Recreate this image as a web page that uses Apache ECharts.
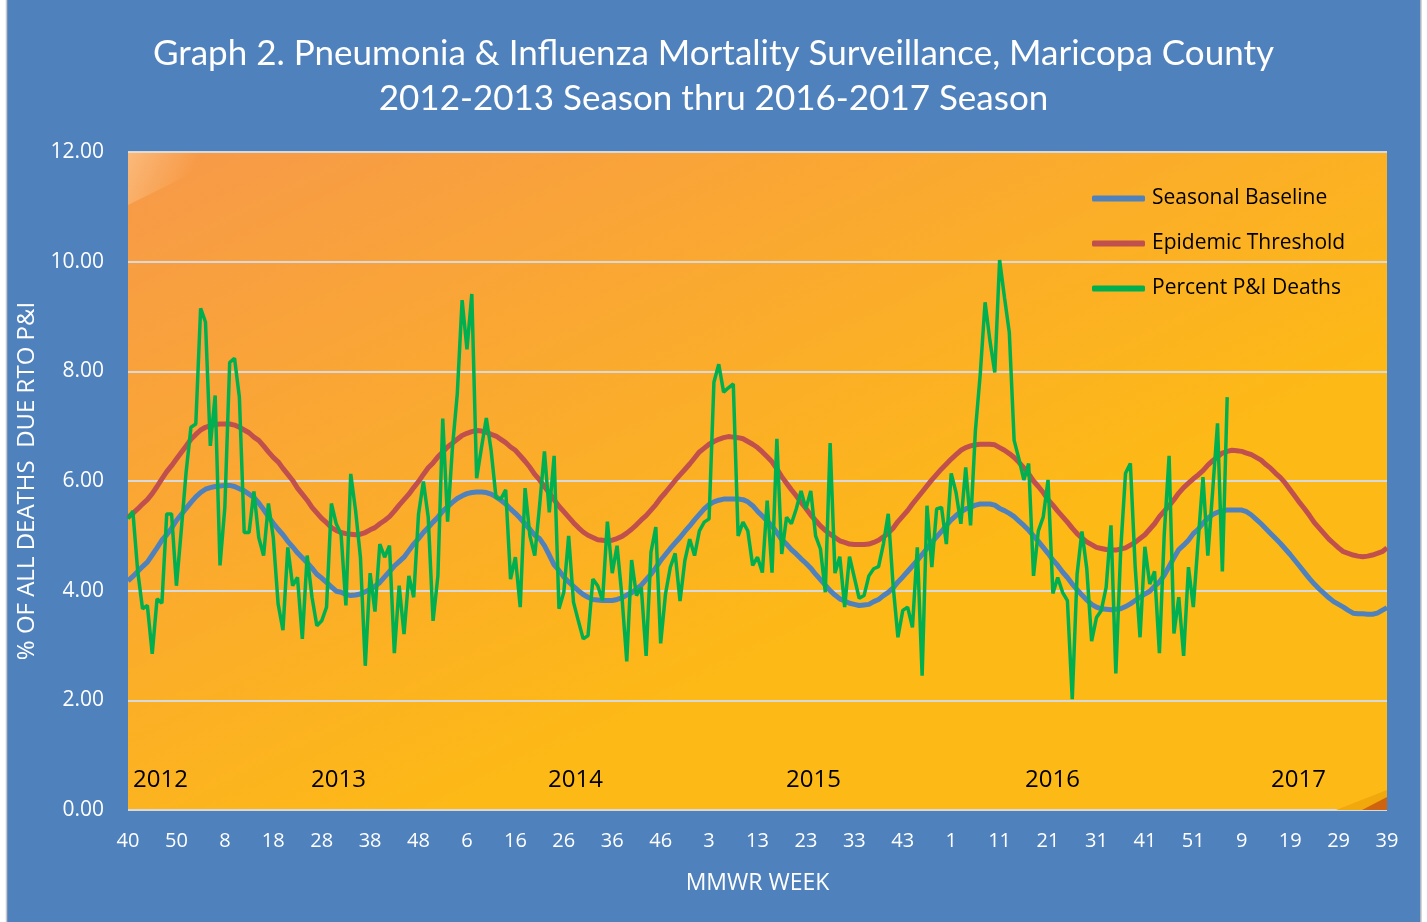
<!DOCTYPE html>
<html>
<head>
<meta charset="utf-8">
<script src="https://cdn.jsdelivr.net/npm/echarts@6/dist/echarts.min.js"></script>
<style>
  html, body { margin: 0; padding: 0; background: #fff; }
  #chart { width: 1427px; height: 922px; }
</style>
</head>
<body>
<div id="chart"></div>
<script>
// MMWR seasons: [year, first week, last week]
const seasonYears = [[2012, 40, 52], [2013, 1, 52], [2014, 1, 53], [2015, 1, 52], [2016, 1, 52], [2017, 1, 39]];

const yearLabels = ['2012', '2013', '2014', '2015', '2016', '2017'];

const seasonalBaseline = [
  4.18, 4.26, 4.35, 4.44, 4.52, 4.65, 4.78, 4.92, 5.02, 5.14, 5.28, 5.39, 5.50, 5.61, 5.71, 5.79, 5.85, 5.88, 5.90, 5.91, 5.92, 5.92, 5.90, 5.86, 5.82, 5.76, 5.70, 5.60, 5.48, 5.35, 5.23, 5.12, 5.02, 4.90, 4.80, 4.69, 4.60, 4.51, 4.41, 4.30, 4.23, 4.15, 4.07, 3.99,
  3.97, 3.93, 3.91, 3.92, 3.94, 3.98, 4.02, 4.08, 4.15, 4.25, 4.35, 4.45, 4.53, 4.61, 4.73, 4.85, 4.95, 5.06, 5.15, 5.25, 5.34, 5.45, 5.53, 5.61, 5.68, 5.73, 5.77, 5.79, 5.80, 5.80, 5.79, 5.76, 5.71, 5.65, 5.58, 5.49, 5.41, 5.32, 5.22, 5.12, 5.01, 4.95, 4.82, 4.65,
  4.47, 4.37, 4.25, 4.16, 4.08, 4.00, 3.93, 3.88, 3.84, 3.83, 3.82, 3.82, 3.82, 3.84, 3.87, 3.92, 3.96, 4.03, 4.10, 4.20, 4.30, 4.42, 4.55, 4.66, 4.77, 4.87, 4.97, 5.08, 5.18, 5.29, 5.39, 5.49, 5.57, 5.62, 5.65, 5.67, 5.67, 5.67, 5.67, 5.66, 5.62, 5.55, 5.45,
  5.36, 5.27, 5.18, 5.06, 4.93, 4.85, 4.75, 4.67, 4.58, 4.50, 4.41, 4.30, 4.20, 4.10, 4.00, 3.92, 3.85, 3.81, 3.77, 3.75, 3.73, 3.74, 3.75, 3.80, 3.84, 3.91, 3.97, 4.05, 4.16, 4.25, 4.35, 4.45, 4.55, 4.66, 4.77, 4.88, 4.98, 5.08, 5.19, 5.29, 5.37, 5.44, 5.49, 5.52,
  5.56, 5.58, 5.58, 5.58, 5.56, 5.50, 5.46, 5.41, 5.35, 5.27, 5.19, 5.10, 5.00, 4.90, 4.79, 4.68, 4.56, 4.46, 4.34, 4.24, 4.12, 4.02, 3.92, 3.83, 3.75, 3.70, 3.67, 3.66, 3.65, 3.66, 3.67, 3.71, 3.76, 3.82, 3.88, 3.94, 3.99, 4.08, 4.16, 4.28, 4.44, 4.60, 4.75,
  4.83, 4.92, 5.04, 5.12, 5.23, 5.32, 5.39, 5.43, 5.46, 5.47, 5.47, 5.47, 5.47, 5.44, 5.38, 5.30, 5.22, 5.13, 5.04, 4.95, 4.86, 4.76, 4.66, 4.55, 4.44, 4.33, 4.22, 4.12, 4.03, 3.95, 3.87, 3.80, 3.75, 3.70, 3.64, 3.59, 3.58, 3.58, 3.57, 3.57, 3.59, 3.64, 3.69
];

const epidemicThreshold = [
  5.34, 5.41, 5.49, 5.58, 5.66, 5.77, 5.90, 6.04, 6.17, 6.28, 6.40, 6.52, 6.64, 6.76, 6.85, 6.93, 6.98, 7.01, 7.03, 7.04, 7.04, 7.04, 7.02, 6.98, 6.93, 6.88, 6.80, 6.74, 6.64, 6.53, 6.43, 6.35, 6.23, 6.12, 6.01, 5.87, 5.76, 5.65, 5.52, 5.42, 5.32, 5.24, 5.15, 5.10,
  5.06, 5.04, 5.03, 5.02, 5.03, 5.06, 5.11, 5.15, 5.22, 5.28, 5.35, 5.45, 5.56, 5.66, 5.76, 5.88, 5.99, 6.12, 6.24, 6.33, 6.44, 6.53, 6.62, 6.69, 6.76, 6.83, 6.87, 6.90, 6.92, 6.91, 6.89, 6.85, 6.82, 6.76, 6.70, 6.62, 6.56, 6.46, 6.36, 6.25, 6.12,
  6.02, 5.90, 5.78, 5.66, 5.54, 5.44, 5.34, 5.24, 5.15, 5.07, 5.01, 4.97, 4.93, 4.92, 4.91, 4.92, 4.95, 4.99, 5.05, 5.12, 5.20, 5.29, 5.37, 5.47, 5.57, 5.69, 5.79, 5.90, 6.01, 6.11, 6.21, 6.31, 6.42, 6.53, 6.60, 6.67, 6.72, 6.76, 6.79, 6.81, 6.80, 6.79, 6.77, 6.72, 6.67, 6.61,
  6.53, 6.44, 6.35, 6.22, 6.08, 5.96, 5.84, 5.73, 5.61, 5.50, 5.38, 5.28, 5.18, 5.10, 5.03, 4.97, 4.91, 4.88, 4.85, 4.84, 4.84, 4.84, 4.85, 4.88, 4.92, 4.98, 5.05, 5.14, 5.26, 5.36, 5.46, 5.58, 5.69, 5.80, 5.91, 6.02, 6.12, 6.22, 6.31, 6.40, 6.48, 6.56, 6.61, 6.64,
  6.66, 6.67, 6.67, 6.67, 6.66, 6.61, 6.56, 6.50, 6.43, 6.34, 6.24, 6.13, 6.00, 5.90, 5.79, 5.66, 5.56, 5.45, 5.35, 5.25, 5.14, 5.04, 4.96, 4.89, 4.84, 4.79, 4.77, 4.75, 4.74, 4.74, 4.76, 4.78, 4.83, 4.88, 4.95, 5.02, 5.12, 5.22, 5.35, 5.45, 5.55, 5.66, 5.78,
  5.88, 5.96, 6.04, 6.11, 6.19, 6.29, 6.37, 6.44, 6.51, 6.54, 6.56, 6.55, 6.54, 6.51, 6.48, 6.43, 6.38, 6.30, 6.23, 6.14, 6.06, 5.96, 5.84, 5.72, 5.60, 5.49, 5.37, 5.24, 5.14, 5.04, 4.94, 4.86, 4.78, 4.71, 4.68, 4.65, 4.63, 4.62, 4.63, 4.65, 4.68, 4.71, 4.78
];

const percentPI = [
  5.31, 5.45, 4.36, 3.67, 3.73, 2.85, 3.85, 3.77, 5.40, 5.40, 4.09, 5.10, 6.16, 6.98, 7.04, 9.15, 8.90, 6.64, 7.56, 4.46, 5.52, 8.16, 8.24, 7.53, 5.06, 5.06, 5.81, 4.97, 4.64, 5.59, 4.97, 3.76, 3.28, 4.79, 4.09, 4.24, 3.12, 4.64, 3.88, 3.36, 3.45, 3.70, 5.59, 5.22,
  5.03, 3.73, 6.13, 5.46, 4.61, 2.63, 4.32, 3.62, 4.85, 4.61, 4.82, 2.86, 4.09, 3.21, 4.27, 3.88, 5.40, 5.99, 5.34, 3.45, 4.27, 7.14, 5.26, 6.61, 7.59, 9.30, 8.40, 9.41, 6.05, 6.61, 7.15, 6.55, 5.70, 5.67, 5.84, 4.21, 4.61, 3.70, 5.87, 5.00, 4.64, 5.55, 6.54, 5.43,
  6.46, 3.67, 3.97, 5.00, 3.79, 3.45, 3.12, 3.18, 4.21, 4.09, 3.82, 5.26, 4.32, 4.82, 3.90, 2.71, 4.56, 3.91, 4.06, 2.81, 4.70, 5.16, 3.04, 3.94, 4.43, 4.68, 3.81, 4.55, 4.94, 4.64, 5.09, 5.25, 5.31, 7.80, 8.13, 7.62, 7.70, 7.77, 5.00, 5.25, 5.09, 4.46, 4.61,
  4.33, 5.64, 4.33, 6.77, 4.67, 5.34, 5.22, 5.49, 5.82, 5.49, 5.82, 5.00, 4.76, 3.97, 6.69, 4.32, 4.62, 3.70, 4.62, 4.24, 3.86, 3.91, 4.27, 4.40, 4.44, 4.85, 5.40, 4.10, 3.15, 3.64, 3.70, 3.33, 4.79, 2.45, 5.55, 4.43, 5.49, 5.52, 4.85, 6.14, 5.79, 5.22, 6.25, 5.19,
  6.92, 7.95, 9.26, 8.56, 7.98, 10.03, 9.35, 8.71, 6.74, 6.40, 6.02, 6.32, 4.27, 5.09, 5.34, 6.02, 3.95, 4.24, 3.97, 3.82, 2.02, 4.30, 5.08, 4.40, 3.08, 3.51, 3.64, 4.06, 5.19, 2.49, 4.73, 6.14, 6.32, 4.43, 3.15, 4.80, 4.12, 4.35, 2.86, 5.03, 6.46, 3.22, 3.88,
  2.81, 4.43, 3.70, 4.91, 6.07, 4.64, 5.82, 7.05, 4.35, 7.53
];

// week-number categories, 2012 wk40 .. 2017 wk39
const weeks = [];
seasonYears.forEach(function (s) {
  for (let w = s[1]; w <= s[2]; w++) weeks.push(String(w));
});

const chart = echarts.init(document.getElementById('chart'));
const baseFont = '"Open Sans", "Noto Sans", sans-serif';
const yearFont = '24px "Open Sans", sans-serif';

const option = {
  backgroundColor: '#fff',
  animation: false,
  title: {
    text: 'Graph 2. Pneumonia & Influenza Mortality Surveillance, Maricopa County\n2012-2013 Season thru 2016-2017 Season',
    left: 'center',
    top: 26,
    textStyle: {
      color: '#fff',
      fontSize: 35,
      fontWeight: 'normal',
      fontFamily: 'Lato, "Open Sans", sans-serif',
      lineHeight: 45
    }
  },
  legend: {
    orient: 'vertical',
    left: 1087,
    top: 183,
    itemWidth: 53,
    itemHeight: 6,
    itemGap: 24,
    icon: 'roundRect',
    data: ['Seasonal Baseline', 'Epidemic Threshold', 'Percent P&I Deaths'],
    textStyle: { color: '#000', fontSize: 21, fontFamily: baseFont, padding: [0, 0, 0, 2] }
  },
  grid: {
    left: 128,
    right: 40,
    top: 152,
    bottom: 112,
    show: true,
    borderWidth: 0,
    backgroundColor: new echarts.graphic.LinearGradient(0, 0, 0.25, 1, [
      { offset: 0, color: '#F7994A' },
      { offset: 1, color: '#FDB916' }
    ])
  },
  xAxis: {
    type: 'category',
    data: weeks,
    boundaryGap: false,
    name: 'MMWR WEEK',
    nameLocation: 'middle',
    nameGap: 62,
    nameTextStyle: { color: '#fff', fontSize: 23, fontFamily: baseFont },
    axisLine: { show: false },
    axisTick: { show: false },
    axisLabel: { interval: 9, color: '#fff', fontSize: 20, margin: 21, fontFamily: baseFont }
  },
  yAxis: {
    type: 'value',
    min: 0,
    max: 12,
    interval: 2,
    name: '% OF ALL DEATHS  DUE RTO P&I',
    nameLocation: 'middle',
    nameGap: 86,
    nameRotate: 90,
    nameTextStyle: { color: '#fff', fontSize: 24, fontFamily: '"Liberation Sans Narrow", "Open Sans", sans-serif' },
    axisLabel: {
      color: '#fff',
      fontSize: 21,
      margin: 24,
      fontFamily: baseFont,
      formatter: function (v) { return v.toFixed(2); }
    },
    splitLine: { lineStyle: { color: '#D9D9D9', width: 2 } }
  },
  graphic: [
    {
      type: 'rect',
      shape: { x: 6.5, y: -2, width: 1414.5, height: 926 },
      style: { fill: '#4F81BD', stroke: '#C8C8C8', lineWidth: 1.5 },
      z: -10,
      silent: true
    },
    {
      type: 'polygon',
      shape: { points: [[128, 152], [235, 152], [128, 205]] },
      style: {
        fill: new echarts.graphic.LinearGradient(0, 0, 1, 1, [
          { offset: 0, color: 'rgba(255,225,185,0.45)' },
          { offset: 0.55, color: 'rgba(255,225,185,0)' }
        ])
      },
      z: 1
    },
    {
      type: 'polygon',
      shape: { points: [[1336, 810], [1387, 790], [1387, 810]] },
      style: { fill: '#F0A80C' },
      z: 1
    },
    {
      type: 'polygon',
      shape: { points: [[1362, 810], [1387, 797], [1387, 810]] },
      style: { fill: '#CF6410' },
      z: 1
    },
    { type: 'text', left: 133, top: 768, style: { text: yearLabels[0], fill: '#000', font: yearFont }, z: 10 },
    { type: 'text', left: 311, top: 768, style: { text: yearLabels[1], fill: '#000', font: yearFont }, z: 10 },
    { type: 'text', left: 548, top: 768, style: { text: yearLabels[2], fill: '#000', font: yearFont }, z: 10 },
    { type: 'text', left: 786, top: 768, style: { text: yearLabels[3], fill: '#000', font: yearFont }, z: 10 },
    { type: 'text', left: 1025, top: 768, style: { text: yearLabels[4], fill: '#000', font: yearFont }, z: 10 },
    { type: 'text', left: 1271, top: 768, style: { text: yearLabels[5], fill: '#000', font: yearFont }, z: 10 }
  ],
  series: [
    {
      name: 'Seasonal Baseline',
      type: 'line',
      data: seasonalBaseline,
      symbol: 'none',
      color: '#4F81BD',
      lineStyle: { width: 5, color: '#4F81BD' },
      z: 3
    },
    {
      name: 'Epidemic Threshold',
      type: 'line',
      data: epidemicThreshold,
      symbol: 'none',
      color: '#C0504D',
      lineStyle: { width: 5, color: '#C0504D' },
      z: 3
    },
    {
      name: 'Percent P&I Deaths',
      type: 'line',
      data: percentPI,
      symbol: 'none',
      color: '#00B050',
      lineStyle: { width: 3.5, color: '#00B050' },
      z: 4
    }
  ]
};

chart.setOption(option);
</script>
</body>
</html>
